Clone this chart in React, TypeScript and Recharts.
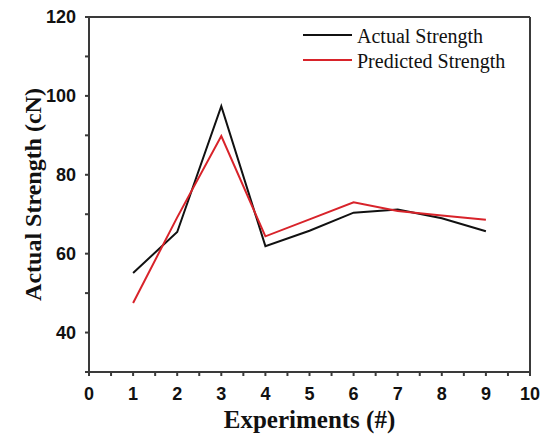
import React from "react";
import {
  LineChart,
  Line,
  XAxis,
  YAxis,
  ReferenceLine,
  Legend,
} from "recharts";

const experiments = [1, 2, 3, 4, 5, 6, 7, 8, 9];
const actualStrength = [55.1, 65.5, 97.4, 61.9, 65.8, 70.4, 71.2, 69.0, 65.7];
const predictedStrength = [47.5, 69.2, 89.8, 64.4, 68.7, 73.0, 70.8, 69.7, 68.6];

const xTicks = [0, 0.5, 1, 1.5, 2, 2.5, 3, 3.5, 4, 4.5, 5, 5.5, 6, 6.5, 7, 7.5, 8, 8.5, 9, 9.5, 10];
const yTicks = [30, 40, 50, 60, 70, 80, 90, 100, 110, 120];
const yLabels = [40, 60, 80, 100, 120];

const SERIES = [
  { key: "actual", name: "Actual Strength", color: "#111111" },
  { key: "predicted", name: "Predicted Strength", color: "#d8232a" },
];

const data = experiments.map((x, i) => ({
  x,
  actual: actualStrength[i],
  predicted: predictedStrength[i],
}));

const AXIS = "#3a3a3a";
const TICK_FONT = "'Liberation Sans', Arial, sans-serif";
const TITLE_FONT = "'Liberation Serif', 'Times New Roman', serif";

function XTick({ x, y, payload }: any) {
  if (!Number.isInteger(payload.value)) return <g />;
  return (
    <text
      x={x}
      y={y}
      dy="0.71em"
      textAnchor="middle"
      fontFamily={TICK_FONT}
      fontWeight="bold"
      fontSize={18}
      fill="#111"
    >
      {payload.value}
    </text>
  );
}

function YTick({ x, y, payload }: any) {
  if (!yLabels.includes(payload.value)) return <g />;
  return (
    <text
      x={x}
      y={y}
      dy="0.36em"
      textAnchor="end"
      fontFamily={TICK_FONT}
      fontWeight="bold"
      fontSize={18}
      fill="#111"
    >
      {payload.value}
    </text>
  );
}

function LegendBox() {
  return (
    <div style={{ fontFamily: TITLE_FONT, fontSize: 20, color: "#111", textAlign: "left" }}>
      {SERIES.map((s) => (
        <div
          key={s.key}
          style={{ display: "flex", alignItems: "center", height: 25 }}
        >
          <span
            style={{
              display: "inline-block",
              width: 49,
              height: 2,
              background: s.color,
              marginRight: 5,
              marginTop: -3,
            }}
          />
          <span>{s.name}</span>
        </div>
      ))}
    </div>
  );
}

export default function App() {
  return (
    <div style={{ position: "absolute", left: 0, top: 0, background: "#fff" }}>
      <LineChart
        width={540}
        height={435}
        data={data}
        margin={{ top: 17, right: 10, left: 0, bottom: 0 }}
      >
        <XAxis
          dataKey="x"
          type="number"
          domain={[0, 10]}
          ticks={xTicks}
          interval={0}
          height={63}
          stroke={AXIS}
          strokeWidth={2}
          tickSize={4}
          tickMargin={11}
          tick={<XTick />}
          label={{
            content: ({ viewBox }: any) => (
              <text
                x={viewBox.x + viewBox.width / 2}
                y={viewBox.y + 56}
                textAnchor="middle"
                fontFamily={TITLE_FONT}
                fontWeight="bold"
                fontSize={25}
                fill="#111"
              >
                Experiments (#)
              </text>
            ),
          }}
        />
        <YAxis
          type="number"
          domain={[30, 120]}
          ticks={yTicks}
          interval={0}
          width={89}
          stroke={AXIS}
          strokeWidth={2}
          tickSize={4}
          tickMargin={9}
          tick={<YTick />}
          label={{
            content: ({ viewBox }: any) => {
              const cy = viewBox.y + viewBox.height / 2;
              return (
                <text
                  x={33}
                  y={cy}
                  transform={`rotate(-90, 33, ${cy})`}
                  textAnchor="middle"
                  dominantBaseline="central"
                  fontFamily={TITLE_FONT}
                  fontWeight="bold"
                  fontSize={24}
                  fill="#111"
                >
                  Actual Strength (cN)
                </text>
              );
            },
          }}
        />
        <ReferenceLine y={120} stroke={AXIS} strokeWidth={2} />
        <ReferenceLine x={10} stroke={AXIS} strokeWidth={2} />
        <Legend
          layout="horizontal"
          verticalAlign="middle"
          align="center"
          content={<LegendBox />}
          wrapperStyle={{ position: "absolute", left: 303, top: 24, width: 230 }}
        />
        {SERIES.map((s) => (
          <Line
            key={s.key}
            dataKey={s.key}
            name={s.name}
            stroke={s.color}
            strokeWidth={2}
            dot={false}
            type="linear"
            isAnimationActive={false}
          />
        ))}
      </LineChart>
    </div>
  );
}
